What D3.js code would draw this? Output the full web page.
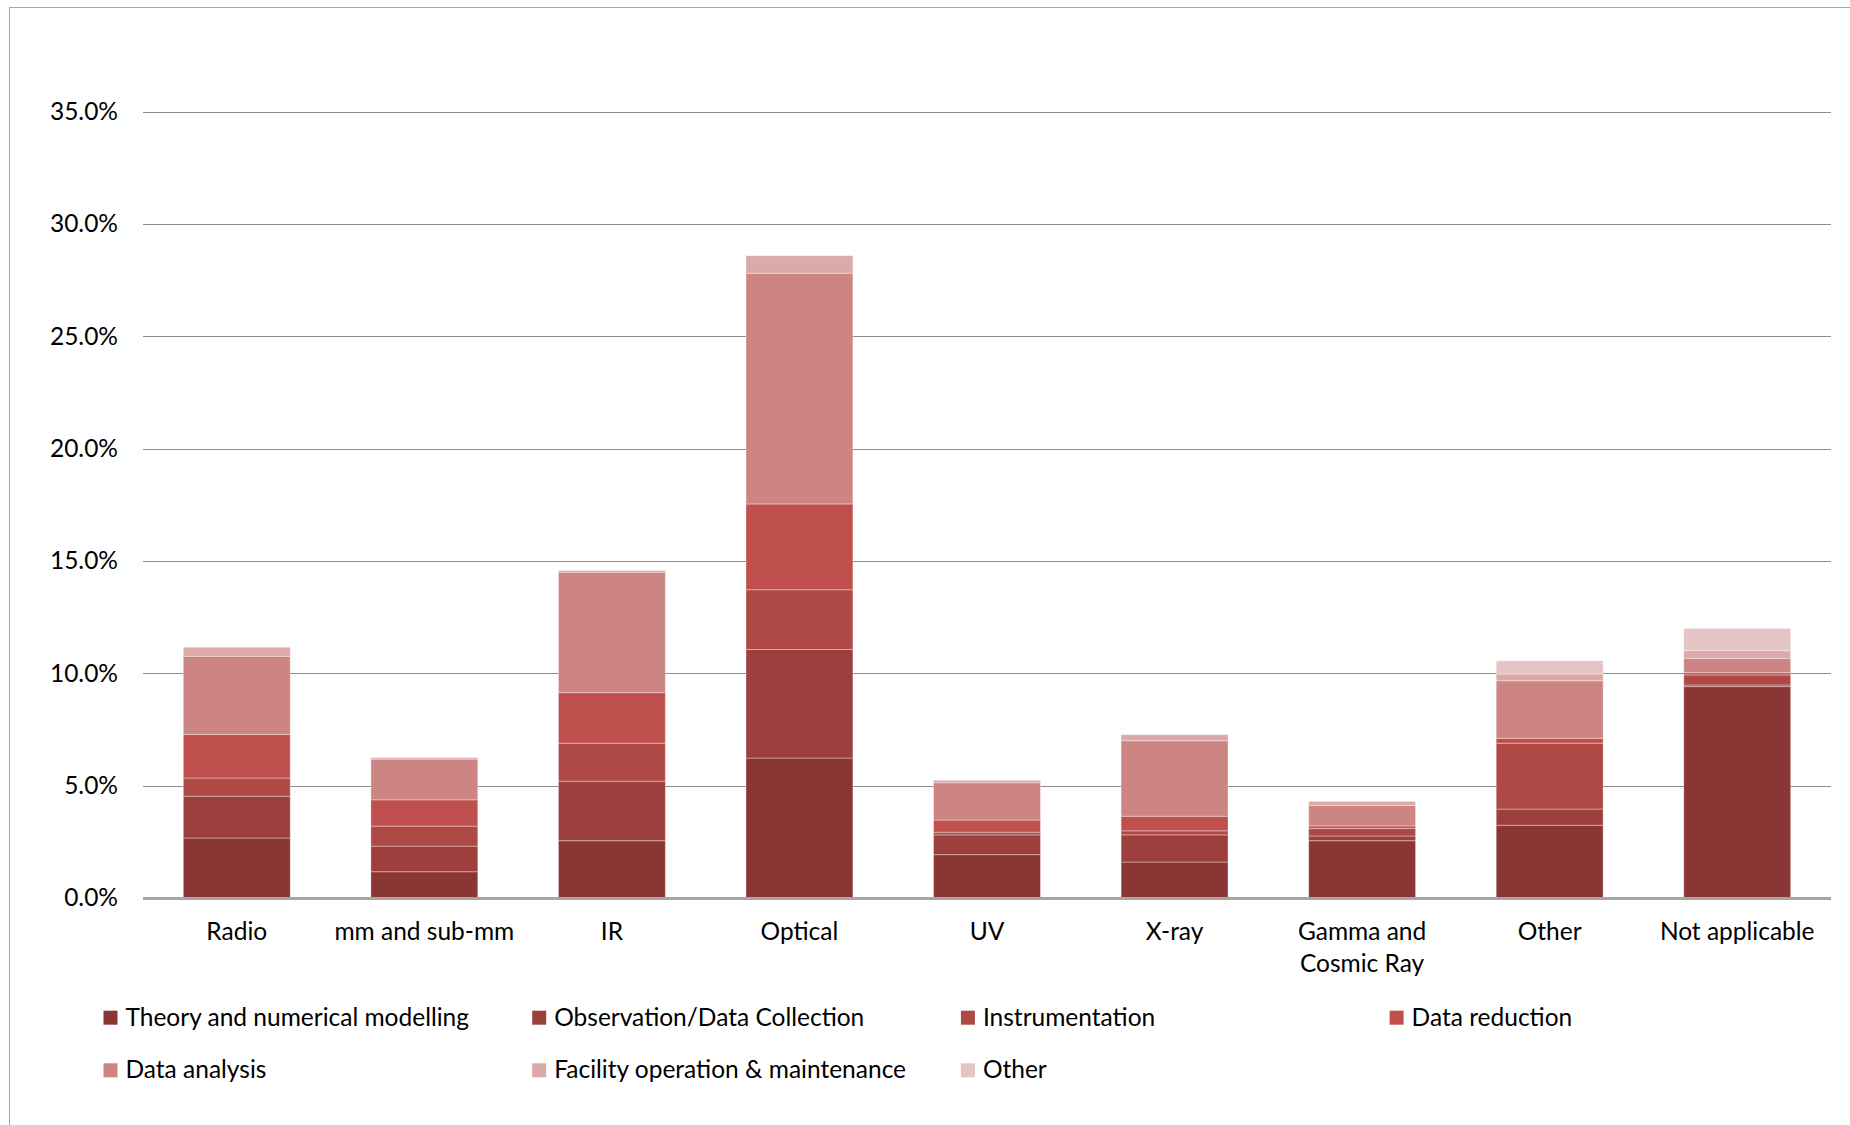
<!DOCTYPE html>
<html>
<head>
<meta charset="utf-8">
<script src="https://cdn.jsdelivr.net/npm/d3@7"></script>
<style>
  html, body { margin: 0; padding: 0; background: #ffffff; }
  svg { display: block; }
  text { font-family: Lato, "Noto Sans", sans-serif; fill: #000; }
</style>
</head>
<body>
<svg id="chart" width="1850" height="1125"></svg>
<script>
// ---- data (percent) ----
const categories = ["Radio", "mm and sub-mm", "IR", "Optical", "UV", "X-ray", "Gamma and Cosmic Ray", "Other", "Not applicable"];
const categoryLines = [["Radio"], ["mm and sub-mm"], ["IR"], ["Optical"], ["UV"], ["X-ray"], ["Gamma and", "Cosmic Ray"], ["Other"], ["Not applicable"]];
const seriesNames = ["Theory and numerical modelling", "Observation/Data Collection", "Instrumentation", "Data reduction", "Data analysis", "Facility operation & maintenance", "Other"];
const theory          = [2.67, 1.17, 2.55, 6.23, 1.93, 1.60, 2.55, 3.24, 9.41];
const observation     = [1.86, 1.14, 2.65, 4.83, 0.88, 1.21, 0.21, 0.72, 0.07];
const instrumentation = [0.81, 0.89, 1.69, 2.66, 0.12, 0.18, 0.34, 2.93, 0.45];
const dataReduction   = [1.94, 1.17, 2.25, 3.82, 0.54, 0.65, 0.11, 0.22, 0.10];
const dataAnalysis    = [3.48, 1.81, 5.36, 10.27, 1.66, 3.36, 0.91, 2.56, 0.64];
const facility        = [0.40, 0.07, 0.08, 0.78, 0.11, 0.27, 0.18, 0.30, 0.34];
const otherActivity   = [0.00, 0.00, 0.00, 0.00, 0.00, 0.00, 0.00, 0.59, 0.99];
const yTicks = [0, 5, 10, 15, 20, 25, 30, 35];
const colors = ["#893634", "#9d3f3d", "#ae4946", "#c0504d", "#cd8583", "#daa9a8", "#e4c4c4"];

const seriesValues = [theory, observation, instrumentation, dataReduction, dataAnalysis, facility, otherActivity];
const FS = 24.5;

// build table for d3.stack
const table = categories.map((c, i) => {
  const row = { category: c };
  seriesNames.forEach((s, j) => { row["s" + j] = seriesValues[j][i]; });
  return row;
});
const keys = seriesNames.map((s, j) => "s" + j);
const stacked = d3.stack().keys(keys)(table);

const svg = d3.select("#chart");

// outer chart border (cropped at right/bottom)
svg.append("rect")
  .attr("x", 9.5).attr("y", 7.5)
  .attr("width", 1900).attr("height", 1200)
  .attr("fill", "none").attr("stroke", "#a6a6a6").attr("stroke-width", 1);

const x = d3.scaleBand().domain(categories).range([143, 1831]).paddingInner(0.43).paddingOuter(0.215);
const y = d3.scaleLinear().domain([0, 35]).range([898, 111.7]);

// gridlines
const yAxis = d3.axisLeft(y).tickValues(yTicks).tickSize(-(1831 - 143)).tickFormat(d => d3.format(".1f")(d) + "%");
const gy = svg.append("g").attr("transform", "translate(143,0)").call(yAxis);
gy.select(".domain").remove();
gy.selectAll(".tick line").attr("stroke", "#8c8c8c").attr("stroke-width", 1.2)
  .attr("shape-rendering", "crispEdges");
gy.selectAll(".tick text").attr("x", -25).attr("font-size", FS).attr("fill", "#000")
  .style("font-family", "Lato, 'Noto Sans', sans-serif");
gy.selectAll(".tick").filter(d => d === 0).select("line").attr("stroke", "#a6a6a6").attr("stroke-width", 2);

// bars
svg.append("g").selectAll("g")
  .data(stacked).join("g")
  .attr("fill", (d, i) => colors[i])
  .selectAll("rect")
  .data(d => d).join("rect")
  .attr("x", d => x(d.data.category))
  .attr("y", d => y(d[1]))
  .attr("width", x.bandwidth())
  .attr("height", d => Math.max(0, y(d[0]) - y(d[1])))
  .attr("stroke", "rgba(255,255,255,0.35)")
  .attr("stroke-width", 1);

// redraw baseline over bars
svg.append("line").attr("x1", 143).attr("x2", 1831).attr("y1", y(0)).attr("y2", y(0))
  .attr("stroke", "#a6a6a6").attr("stroke-width", 2);

// category labels
const xl = svg.append("g");
categories.forEach((c, i) => {
  const t = xl.append("text")
    .attr("x", x(c) + x.bandwidth() / 2)
    .attr("y", 940)
    .attr("text-anchor", "middle")
    .attr("font-size", FS);
  categoryLines[i].forEach((line, k) => {
    t.append("tspan").attr("x", x(c) + x.bandwidth() / 2).attr("dy", k === 0 ? 0 : 32).text(line);
  });
});

// legend
const legend = svg.append("g");
seriesNames.forEach((name, i) => {
  const col = i % 4, row = Math.floor(i / 4);
  const lx = 103.5 + col * 428.7;
  const ly = 1010.7 + row * 52.6;
  legend.append("rect").attr("x", lx).attr("y", ly).attr("width", 14).attr("height", 14).attr("fill", colors[i]);
  legend.append("text").attr("x", lx + 22).attr("y", ly + 15).attr("font-size", FS).text(name);
});
</script>
</body>
</html>
